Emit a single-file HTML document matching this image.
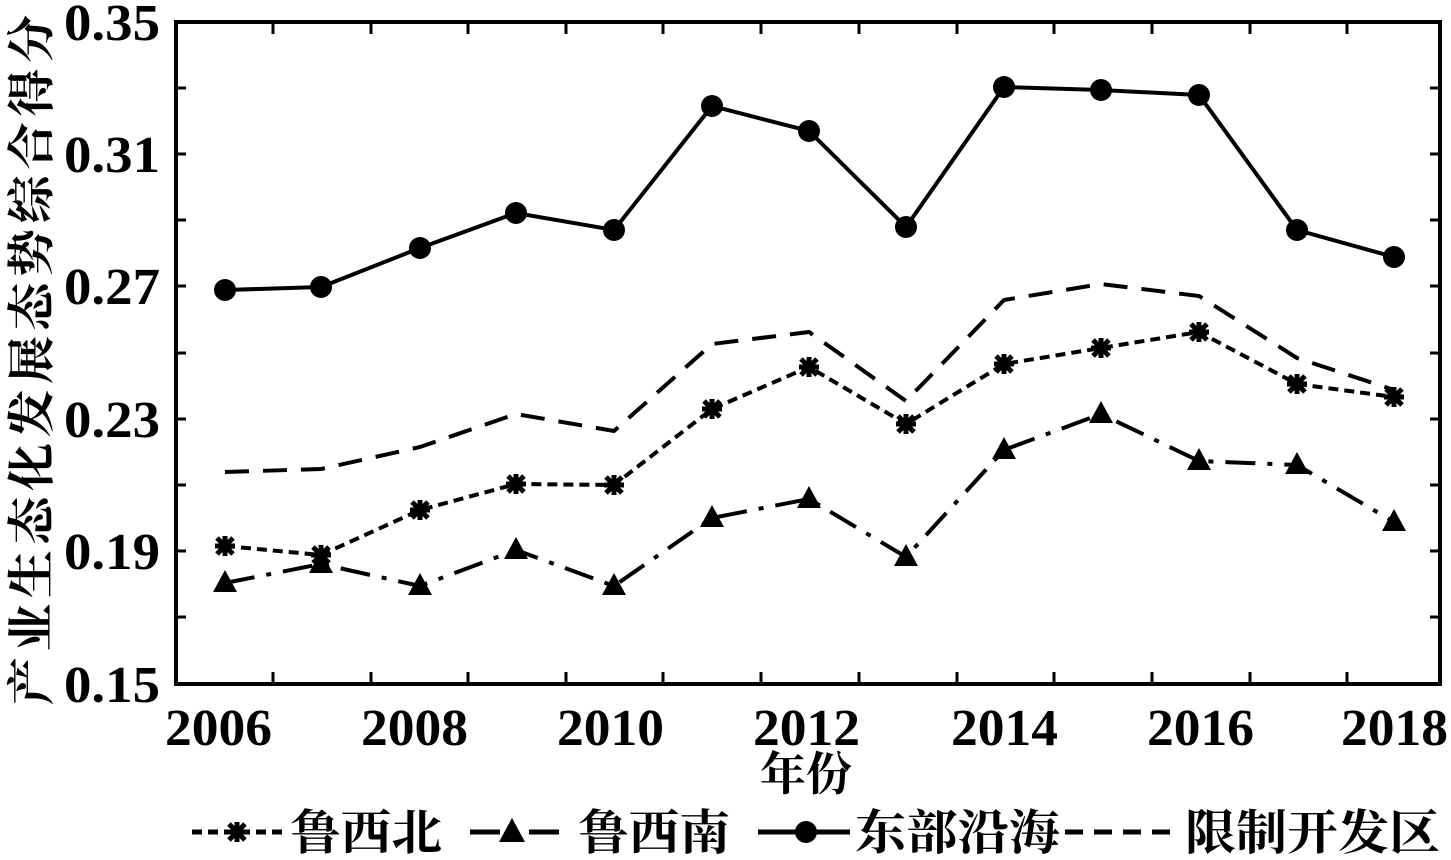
<!DOCTYPE html><html><head><style>body{margin:0;background:#fff}</style></head><body>
<svg width="1451" height="855" xmlns="http://www.w3.org/2000/svg" font-family="Liberation Serif, serif">
<rect x="176" y="22" width="1264" height="662" fill="none" stroke="#000" stroke-width="4"/>
<g stroke="#000" stroke-width="3">
<path d="M273 684v-12M371 684v-12M468 684v-12M566 684v-12M663 684v-12M761 684v-12M859 684v-12M957 684v-12M1054 684v-12M1152 684v-12M1250 684v-12M1347 684v-12"/>
<path d="M273 22v12M371 22v12M468 22v12M566 22v12M663 22v12M761 22v12M859 22v12M957 22v12M1054 22v12M1152 22v12M1250 22v12M1347 22v12"/>
<path d="M176 88h10M176 154h10M176 220h10M176 286h10M176 353h10M176 419h10M176 485h10M176 551h10M176 617h10"/>
<path d="M1440 88h-10M1440 154h-10M1440 220h-10M1440 286h-10M1440 353h-10M1440 419h-10M1440 485h-10M1440 551h-10M1440 617h-10"/>
</g>
<g font-size="52" font-weight="bold">
<text x="64" y="40" textLength="96" lengthAdjust="spacingAndGlyphs">0.35</text><text x="64" y="172" textLength="96" lengthAdjust="spacingAndGlyphs">0.31</text><text x="64" y="304" textLength="96" lengthAdjust="spacingAndGlyphs">0.27</text><text x="64" y="437" textLength="96" lengthAdjust="spacingAndGlyphs">0.23</text><text x="64" y="569" textLength="96" lengthAdjust="spacingAndGlyphs">0.19</text><text x="64" y="702" textLength="96" lengthAdjust="spacingAndGlyphs">0.15</text></g>
<g font-size="52" font-weight="bold">
<text x="165" y="745" textLength="107" lengthAdjust="spacingAndGlyphs">2006</text><text x="361" y="745" textLength="107" lengthAdjust="spacingAndGlyphs">2008</text><text x="557" y="745" textLength="107" lengthAdjust="spacingAndGlyphs">2010</text><text x="753" y="745" textLength="107" lengthAdjust="spacingAndGlyphs">2012</text><text x="951" y="745" textLength="107" lengthAdjust="spacingAndGlyphs">2014</text><text x="1147" y="745" textLength="107" lengthAdjust="spacingAndGlyphs">2016</text><text x="1341" y="745" textLength="107" lengthAdjust="spacingAndGlyphs">2018</text></g>
<text x="806" y="790" font-size="46" font-weight="bold" text-anchor="middle" font-family="Liberation Serif, Noto Serif CJK SC, serif">年份</text>
<text transform="translate(48,705) rotate(-90)" font-size="48" font-weight="bold" textLength="690" lengthAdjust="spacing" font-family="Liberation Serif, Noto Serif CJK SC, serif">产业生态化发展态势综合得分</text>
<g fill="none" stroke="#000" stroke-width="4">
<polyline points="225,290 321,287 420,248 516,213 614,230 712,106 809,131 906,227 1004,87 1101,90 1199,95 1297,230 1394,257"/>
<polyline stroke-dasharray="10,6" points="225,546 321,555 420,510 516,484 614,485 712,409 809,367 906,424 1004,364 1101,348 1199,332 1297,384 1394,397"/>
<polyline stroke-dasharray="30,12,5,12" points="225,583 321,564 420,586 516,550 614,586 712,518 809,499 906,557 1004,450 1101,414 1199,461 1297,465 1394,522"/>
<polyline stroke-dasharray="24,14" points="225,472 321,469 420,447 516,414 614,431 712,344 809,332 906,401 1004,300 1101,284 1199,296 1297,358 1394,390"/>
</g>
<g fill="#000">
<circle cx="225" cy="290" r="11"/><circle cx="321" cy="287" r="11"/><circle cx="420" cy="248" r="11"/><circle cx="516" cy="213" r="11"/><circle cx="614" cy="230" r="11"/><circle cx="712" cy="106" r="11"/><circle cx="809" cy="131" r="11"/><circle cx="906" cy="227" r="11"/><circle cx="1004" cy="87" r="11"/><circle cx="1101" cy="90" r="11"/><circle cx="1199" cy="95" r="11"/><circle cx="1297" cy="230" r="11"/><circle cx="1394" cy="257" r="11"/>
</g>
<g fill="#000">
<path d="M0 -13L12 9H-12Z" transform="translate(225,583)"/>
<path d="M0 -13L12 9H-12Z" transform="translate(321,564)"/><path d="M0 -13L12 9H-12Z" transform="translate(420,586)"/><path d="M0 -13L12 9H-12Z" transform="translate(516,550)"/><path d="M0 -13L12 9H-12Z" transform="translate(614,586)"/><path d="M0 -13L12 9H-12Z" transform="translate(712,518)"/><path d="M0 -13L12 9H-12Z" transform="translate(809,499)"/><path d="M0 -13L12 9H-12Z" transform="translate(906,557)"/><path d="M0 -13L12 9H-12Z" transform="translate(1004,450)"/><path d="M0 -13L12 9H-12Z" transform="translate(1101,414)"/><path d="M0 -13L12 9H-12Z" transform="translate(1199,461)"/><path d="M0 -13L12 9H-12Z" transform="translate(1297,465)"/><path d="M0 -13L12 9H-12Z" transform="translate(1394,522)"/>
</g>
<g stroke="#000" stroke-width="5">
<path d="M-10 0h20M0 -10v20M-8 -8l16 16M-8 8l16 -16" transform="translate(225,546)"/>
<path d="M-10 0h20M0 -10v20M-8 -8l16 16M-8 8l16 -16" transform="translate(321,555)"/>
<path d="M-10 0h20M0 -10v20M-8 -8l16 16M-8 8l16 -16" transform="translate(420,510)"/>
<path d="M-10 0h20M0 -10v20M-8 -8l16 16M-8 8l16 -16" transform="translate(516,484)"/>
<path d="M-10 0h20M0 -10v20M-8 -8l16 16M-8 8l16 -16" transform="translate(614,485)"/>
<path d="M-10 0h20M0 -10v20M-8 -8l16 16M-8 8l16 -16" transform="translate(712,409)"/>
<path d="M-10 0h20M0 -10v20M-8 -8l16 16M-8 8l16 -16" transform="translate(809,367)"/>
<path d="M-10 0h20M0 -10v20M-8 -8l16 16M-8 8l16 -16" transform="translate(906,424)"/>
<path d="M-10 0h20M0 -10v20M-8 -8l16 16M-8 8l16 -16" transform="translate(1004,364)"/>
<path d="M-10 0h20M0 -10v20M-8 -8l16 16M-8 8l16 -16" transform="translate(1101,348)"/>
<path d="M-10 0h20M0 -10v20M-8 -8l16 16M-8 8l16 -16" transform="translate(1199,332)"/>
<path d="M-10 0h20M0 -10v20M-8 -8l16 16M-8 8l16 -16" transform="translate(1297,384)"/>
<path d="M-10 0h20M0 -10v20M-8 -8l16 16M-8 8l16 -16" transform="translate(1394,397)"/>
</g>
<g stroke="#000" stroke-width="5" fill="none">
<path d="M192 832h92" stroke-dasharray="10,6"/>
<path d="M-10 0h20M0 -10v20M-8 -8l16 16M-8 8l16 -16" transform="translate(237,832)"/>
<path d="M470 832h100" stroke-dasharray="30,12,5,12"/>
<path d="M758 832h92"/>
<path d="M1065 832h115" stroke-dasharray="18,11"/>
</g>
<path d="M512 818L525 842H499Z" fill="#000"/>
<circle cx="806" cy="832" r="11" fill="#000"/>
<g font-size="48" font-weight="bold" font-family="Liberation Serif, Noto Serif CJK SC, serif">
<text x="290" y="849" textLength="152" lengthAdjust="spacingAndGlyphs">鲁西北</text><text x="578" y="849" textLength="152" lengthAdjust="spacingAndGlyphs">鲁西南</text><text x="855" y="849" textLength="205" lengthAdjust="spacingAndGlyphs">东部沿海</text><text x="1185" y="849" textLength="255" lengthAdjust="spacingAndGlyphs">限制开发区</text></g>
</svg></body></html>
